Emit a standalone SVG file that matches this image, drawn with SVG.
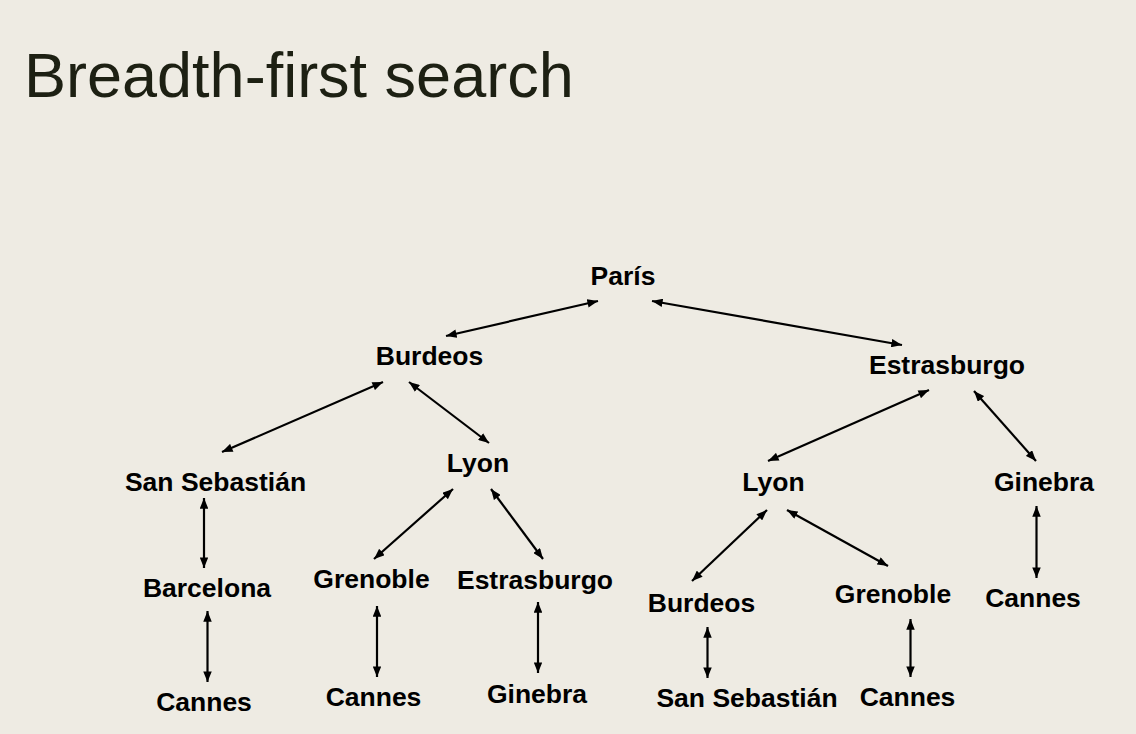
<svg xmlns="http://www.w3.org/2000/svg" width="1136" height="734" viewBox="0 0 1136 734">
  <defs>
    <marker id="ah" viewBox="0 0 10 8" refX="10" refY="4" markerWidth="11" markerHeight="8.5" markerUnits="userSpaceOnUse" orient="auto-start-reverse">
      <path d="M0,0 L10,4 L0,8 z" fill="#000"/>
    </marker>
    <style>
      .title { font-family: "Liberation Sans", Arial, sans-serif; font-size: 63px; fill: #1d2013; }
      .lbl { font-family: "Liberation Sans", Arial, sans-serif; font-size: 26.5px; font-weight: bold; fill: #000; text-anchor: middle; }
      .edge { stroke: #000; stroke-width: 2.2; fill: none; marker-start: url(#ah); marker-end: url(#ah); }
    </style>
  </defs>
  <rect width="1136" height="734" fill="#eeebe3"/>
  <text class="title" x="24" y="97">Breadth-first search</text>

  <g id="connectors">
    <line class="edge" x1="598" y1="301" x2="446" y2="336"/>
    <line class="edge" x1="652" y1="301" x2="902" y2="345"/>
    <line class="edge" x1="383" y1="382" x2="222" y2="452"/>
    <line class="edge" x1="409" y1="382" x2="489" y2="443"/>
    <line class="edge" x1="929" y1="390" x2="768" y2="461"/>
    <line class="edge" x1="974" y1="391" x2="1036" y2="461"/>
    <line class="edge" x1="204" y1="498" x2="204" y2="568"/>
    <line class="edge" x1="207.5" y1="611" x2="207.5" y2="682"/>
    <line class="edge" x1="453" y1="489" x2="374" y2="559"/>
    <line class="edge" x1="491" y1="489" x2="543" y2="559"/>
    <line class="edge" x1="377" y1="606" x2="377" y2="677"/>
    <line class="edge" x1="538" y1="602" x2="538" y2="673"/>
    <line class="edge" x1="767" y1="510" x2="692" y2="581"/>
    <line class="edge" x1="787" y1="510" x2="888" y2="566"/>
    <line class="edge" x1="707.5" y1="627" x2="707.5" y2="678"/>
    <line class="edge" x1="910.5" y1="619" x2="910.5" y2="677"/>
    <line class="edge" x1="1036.5" y1="506" x2="1036.5" y2="578"/>
  </g>

  <g id="n-paris"><text class="lbl" x="623" y="285">París</text></g>
  <g id="n-burdeos"><text class="lbl" x="429.5" y="365">Burdeos</text></g>
  <g id="n-estrasburgo"><text class="lbl" x="947" y="374">Estrasburgo</text></g>
  <g id="n-sansebastian"><text class="lbl" x="215.5" y="491">San Sebastián</text></g>
  <g id="n-lyon1"><text class="lbl" x="478" y="472">Lyon</text></g>
  <g id="n-lyon2"><text class="lbl" x="773.5" y="491">Lyon</text></g>
  <g id="n-ginebra1"><text class="lbl" x="1044" y="491">Ginebra</text></g>
  <g id="n-barcelona"><text class="lbl" x="207" y="597">Barcelona</text></g>
  <g id="n-grenoble1"><text class="lbl" x="371.5" y="588">Grenoble</text></g>
  <g id="n-estrasburgo2"><text class="lbl" x="535" y="589">Estrasburgo</text></g>
  <g id="n-burdeos2"><text class="lbl" x="701.5" y="612">Burdeos</text></g>
  <g id="n-grenoble2"><text class="lbl" x="893" y="603">Grenoble</text></g>
  <g id="n-cannes1"><text class="lbl" x="1033" y="607">Cannes</text></g>
  <g id="n-cannes2"><text class="lbl" x="204" y="711">Cannes</text></g>
  <g id="n-cannes3"><text class="lbl" x="373.5" y="706">Cannes</text></g>
  <g id="n-ginebra2"><text class="lbl" x="537" y="703">Ginebra</text></g>
  <g id="n-sansebastian2"><text class="lbl" x="747" y="707">San Sebastián</text></g>
  <g id="n-cannes4"><text class="lbl" x="907.5" y="706">Cannes</text></g>
</svg>
